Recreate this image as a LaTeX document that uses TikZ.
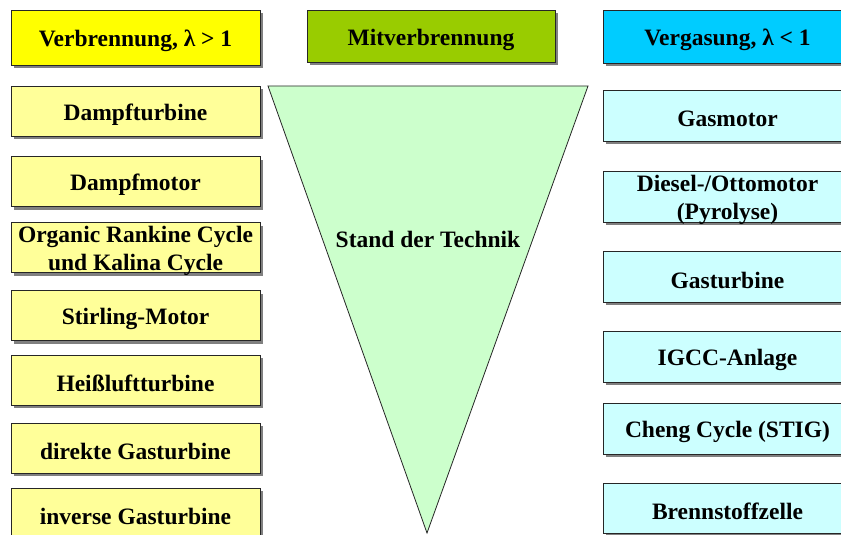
\documentclass[tikz,border=0pt]{standalone}
\usepackage{fontspec}
\setmainfont{Liberation Serif}
\usetikzlibrary{shadows}
\definecolor{hdyellow}{HTML}{FFFF00}
\definecolor{ltyellow}{HTML}{FFFF99}
\definecolor{hdgreen}{HTML}{99CC00}
\definecolor{ltgreen}{HTML}{CCFFCC}
\definecolor{hdcyan}{HTML}{00CCFF}
\definecolor{ltcyan}{HTML}{CCFFFF}
\tikzset{
  boxtext/.style={inner sep=0pt, align=center, yshift=-3.5pt,
    font=\fontsize{23.5}{28}\selectfont\bfseries},
  box/.style={rectangle, draw=black!85, line width=0.8pt,
    minimum width=249pt, minimum height=50pt, inner sep=0pt,
    drop shadow={shadow xshift=3pt, shadow yshift=-3pt, fill=black!50, opacity=1}},
  header/.style={box, minimum height=53pt},
}
\begin{document}
\begin{tikzpicture}[x=1pt, y=-1pt]
  \useasboundingbox (0,0) rectangle (841,535);
  \clip (0,0) rectangle (841,535);

  % column headers
  \node[header, fill=hdyellow, minimum height=55pt,
    label={[boxtext]center:Verbrennung, λ > 1}] (h1) at (135.5,37.5) {};
  \node[header, fill=hdgreen, minimum width=248pt, minimum height=52pt,
    label={[boxtext]center:Mitverbrennung}] (h2) at (431,36) {};
  \node[header, fill=hdcyan,
    label={[boxtext]center:Vergasung, λ < 1}] (h3) at (727.5,36.5) {};

  % combustion processes
  \node[box, fill=ltyellow, label={[boxtext]center:Dampfturbine}] (l1) at (135.5,111) {};
  \node[box, fill=ltyellow, label={[boxtext]center:Dampfmotor}] (l2) at (135.5,181.5) {};
  \node[box, fill=ltyellow, label={[boxtext]center:Organic Rankine Cycle\\und Kalina Cycle}] (l3) at (135.5,247.5) {};
  \node[box, fill=ltyellow, label={[boxtext]center:Stirling-Motor}] (l4) at (135.5,315.5) {};
  \node[box, fill=ltyellow, label={[boxtext]center:Heißluftturbine}] (l5) at (135.5,380) {};
  \node[box, fill=ltyellow, label={[boxtext]center:direkte Gasturbine}] (l6) at (135.5,448) {};
  \node[box, fill=ltyellow, label={[boxtext]center:inverse Gasturbine}] (l7) at (135.5,513) {};

  % gasification processes
  \node[box, fill=ltcyan, minimum height=51pt, label={[boxtext]center:Gasmotor}] (r1) at (727.5,115.5) {};
  \node[box, fill=ltcyan, minimum height=51pt, label={[boxtext]center:Diesel-/Ottomotor\\(Pyrolyse)}] (r2) at (727.5,196.5) {};
  \node[box, fill=ltcyan, minimum height=51pt, label={[boxtext]center:Gasturbine}] (r3) at (727.5,276.5) {};
  \node[box, fill=ltcyan, minimum height=51pt, label={[boxtext]center:IGCC-Anlage}] (r4) at (727.5,356.5) {};
  \node[box, fill=ltcyan, minimum height=51pt, label={[boxtext]center:Cheng Cycle (STIG)}] (r5) at (727.5,428.5) {};
  \node[box, fill=ltcyan, label={[boxtext]center:Brennstoffzelle}] (r6) at (727.5,508) {};

  % co-combustion: state of the art funnel
  \draw[fill=ltgreen, draw=black!85, line width=0.8pt, line join=miter]
    (268,86) -- (588,86) -- (427,533) -- cycle;
  \node[boxtext, yshift=3.5pt] (tri) at (428,239) {Stand der Technik};
\end{tikzpicture}
\end{document}
